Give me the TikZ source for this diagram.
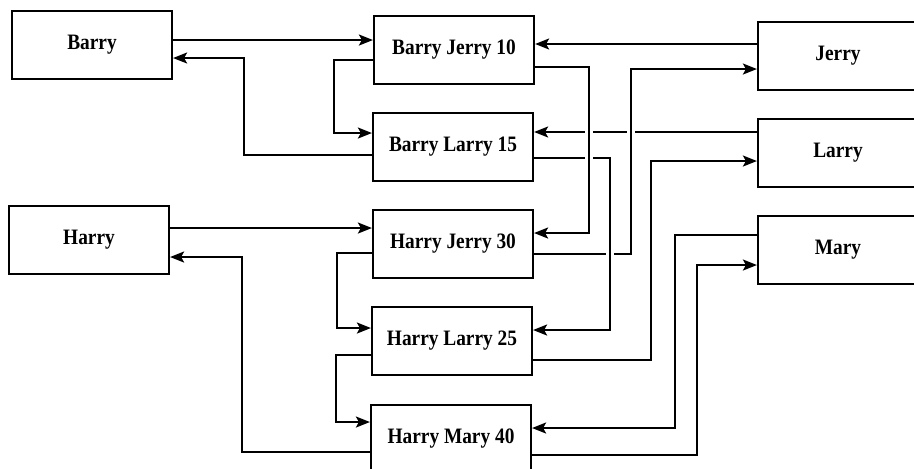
\documentclass[tikz,border=0pt]{standalone}
\usepackage{fontspec}
\setmainfont{Liberation Serif}[FakeStretch=0.88]
\usetikzlibrary{arrows.meta,backgrounds}

\begin{document}
\begin{tikzpicture}[x=0.5pt, y=-0.5pt, font=\fontsize{11}{13}\selectfont\bfseries,
  box/.style={draw, line width=1.1pt, fill=white, minimum width=80pt, minimum height=34pt, inner sep=0pt},
  link/.style={line width=1pt, -{Stealth[length=7pt,width=5.5pt,inset=1.5pt]}},
  over/.style={preaction={draw=white, line width=4pt, -}}]
  \useasboundingbox (0,0) rectangle (914,468);
  % people
  \node[box] (barry) at (92,45)   {Barry};
  \node[box] (harry) at (89,240)  {Harry};
  \node[box] (jerry) at (838,56)  {Jerry};
  \node[box] (larry) at (838,153) {Larry};
  \node[box] (mary)  at (838,250) {Mary};
  % pairs
  \node[box] (bj) at (454,50)  {Barry Jerry 10};
  \node[box] (bl) at (453,147) {Barry Larry 15};
  \node[box] (hj) at (453,244) {Harry Jerry 30};
  \node[box] (hl) at (452,341) {Harry Larry 25};
  \node[box] (hm) at (451,439) {Harry Mary 40};
  \begin{pgfonlayer}{background}
    \foreach \a/\b/\y in {barry.east/bj.west/40, jerry.west/bj.east/44, larry.west/bl.east/132, harry.east/hj.west/228}
      \draw[link] (\a |- 0,\y) -- (\b |- 0,\y);
    \foreach \a/\ya/\x/\b/\yb in {bl.west/155/244/barry.east/58, bj.west/60/334/bl.west/133,
        hm.west/452/242/harry.east/257, hj.west/253/337/hl.west/328, hl.west/355/336/hm.west/422,
        hl.east/360/651/larry.west/161, mary.west/235/675/hm.east/428, hm.east/455/697/mary.west/265}
      \draw[link] (\a |- 0,\ya) -| (\x,\yb) -- (\b |- 0,\yb);
    % these cross other lines
    \foreach \a/\ya/\x/\b/\yb in {hj.east/254/631/jerry.west/69, bl.east/158/610/hl.east/330, bj.east/67/589/hj.east/233}
      \draw[link, over] (\a |- 0,\ya) -| (\x,\yb) -- (\b |- 0,\yb);
  \end{pgfonlayer}
\end{tikzpicture}
\end{document}
